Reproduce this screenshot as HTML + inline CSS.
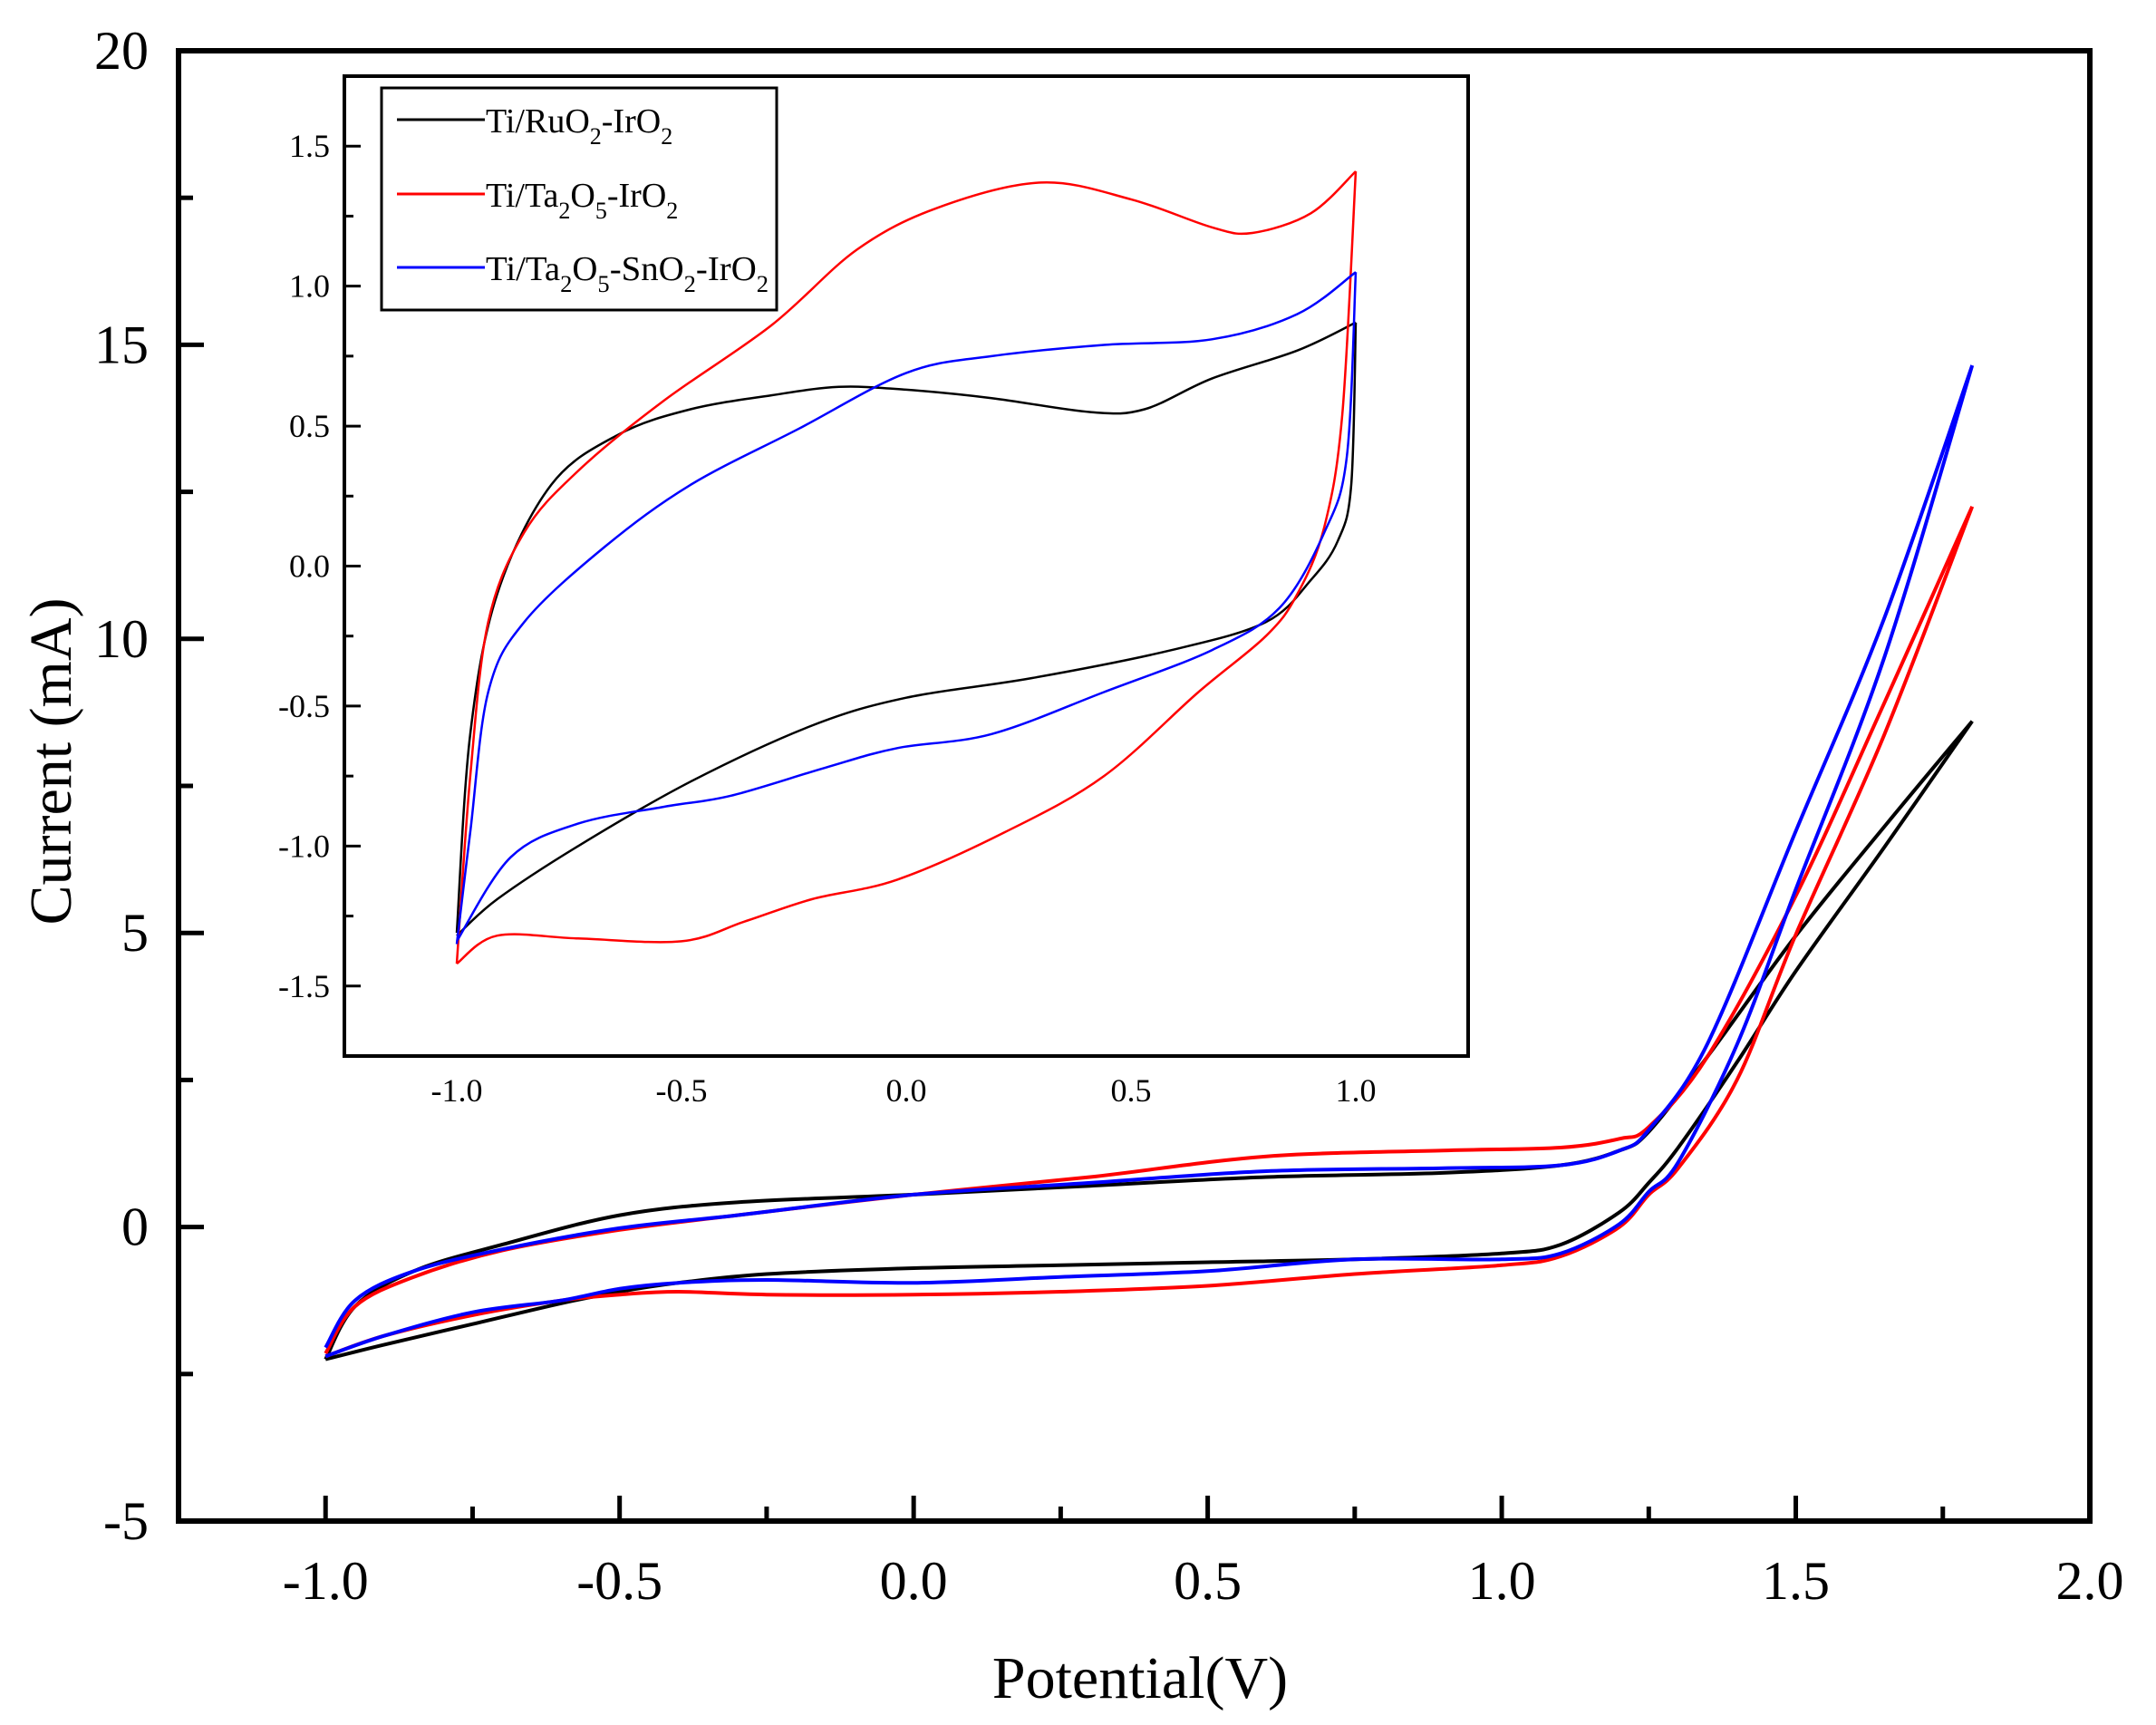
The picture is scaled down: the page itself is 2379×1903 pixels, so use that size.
<!DOCTYPE html>
<html><head><meta charset="utf-8">
<style>
html,body{margin:0;padding:0;background:#fff}
svg{display:block}
text{font-family:"Liberation Serif",serif;fill:#000}
</style></head>
<body>
<svg id="chart" width="2379" height="1903" viewBox="0 0 2379 1903" xmlns="http://www.w3.org/2000/svg">
<rect width="2379" height="1903" fill="#fff"/>
<g id="main"></g>
<g id="inset"></g>
<text x="1258" y="1873" font-size="66" text-anchor="middle">Potential(V)</text>
<text transform="translate(78,840) rotate(-90)" font-size="66" text-anchor="middle">Current (mA)</text>
<g>
<rect x="421" y="97" width="436" height="245" fill="#fff" stroke="#000" stroke-width="3"/>
<g>
<line x1="438" y1="132" x2="535" y2="132" stroke="#000" stroke-width="3"/>
<text x="536" y="146" font-size="38">Ti/RuO<tspan font-size="26" dy="13">2</tspan><tspan dy="-13">-IrO</tspan><tspan font-size="26" dy="13">2</tspan></text>
</g>
<g>
<line x1="438" y1="214" x2="535" y2="214" stroke="#f00" stroke-width="3"/>
<text x="536" y="228" font-size="38">Ti/Ta<tspan font-size="26" dy="13">2</tspan><tspan dy="-13">O</tspan><tspan font-size="26" dy="13">5</tspan><tspan dy="-13">-IrO</tspan><tspan font-size="26" dy="13">2</tspan></text>
</g>
<g>
<line x1="438" y1="295" x2="535" y2="295" stroke="#00f" stroke-width="3"/>
<text x="536" y="309" font-size="38" textLength="312" lengthAdjust="spacingAndGlyphs">Ti/Ta<tspan font-size="26" dy="13">2</tspan><tspan dy="-13">O</tspan><tspan font-size="26" dy="13">5</tspan><tspan dy="-13">-SnO</tspan><tspan font-size="26" dy="13">2</tspan><tspan dy="-13">-IrO</tspan><tspan font-size="26" dy="13">2</tspan></text>
</g>
</g>
</svg>
<script>
// ---- main plot data ----
const mainXTicks = [-1.0,-0.5,0.0,0.5,1.0,1.5,2.0];
const mainYTicks = [-5,0,5,10,15,20];
const fwdX = [-1,-0.95,-0.85,-0.7,-0.5,-0.3,0,0.3,0.6,0.9,1.1,1.2,1.25,1.35,1.5,1.65,1.8];
const blackFwd = [-2.25,-1.35,-0.75,-0.3,0.2,0.42,0.55,0.7,0.85,0.92,1.05,1.3,1.62,2.9,4.95,6.8,8.6];
const redFwd = [-2.15,-1.35,-0.85,-0.4,-0.05,0.2,0.55,0.85,1.2,1.3,1.35,1.5,1.7,2.9,5.63,8.9,12.25];
const blueFwd = [-2.05,-1.25,-0.75,-0.38,-0.02,0.2,0.55,0.75,0.95,1.0,1.05,1.3,1.65,3.12,6.73,10.34,14.65];
const revX = [1.8,1.65,1.5,1.4,1.3,1.25,1.2,1.1,1.0,0.75,0.5,0.25,0,-0.25,-0.4,-0.5,-0.6,-0.75,-0.9,-1.0];
const blackRev = [8.6,6.45,4.35,2.8,1.35,0.75,0.25,-0.3,-0.45,-0.55,-0.6,-0.65,-0.7,-0.8,-0.95,-1.1,-1.3,-1.65,-2.0,-2.25];
const redRev = [12.25,8.36,4.97,2.5,1.0,0.55,0.0,-0.5,-0.65,-0.8,-1.0,-1.1,-1.15,-1.15,-1.1,-1.15,-1.25,-1.5,-1.85,-2.2];
const blueRev = [14.65,9.67,5.74,3.1,1.1,0.6,0.05,-0.45,-0.55,-0.55,-0.75,-0.85,-0.95,-0.9,-0.95,-1.05,-1.25,-1.45,-1.85,-2.2];
// ---- inset data ----
const insetXTicks = [-1.0,-0.5,0.0,0.5,1.0];
const insetYTicks = [-1.5,-1.0,-0.5,0.0,0.5,1.0,1.5];
const iBlackUpX = [-1,-0.97,-0.91,-0.79,-0.64,-0.48,-0.3,-0.15,0,0.19,0.41,0.53,0.68,0.87,1.0];
const iBlackUpY = [-1.31,-0.6,-0.1,0.29,0.47,0.56,0.61,0.64,0.63,0.6,0.55,0.56,0.67,0.77,0.87];
const iBlackDnX = [1.0,0.99,0.96,0.9,0.8,0.59,0.28,0,-0.21,-0.48,-0.73,-0.91,-1.0];
const iBlackDnY = [0.87,0.29,0.09,-0.05,-0.2,-0.3,-0.4,-0.47,-0.57,-0.77,-1.0,-1.19,-1.32];
const iRedUpX = [-1,-0.97,-0.93,-0.85,-0.73,-0.54,-0.3,-0.11,0.07,0.3,0.5,0.68,0.77,0.9,1.0];
const iRedUpY = [-1.42,-0.75,-0.2,0.12,0.34,0.59,0.86,1.13,1.28,1.37,1.31,1.21,1.19,1.26,1.41];
const iRedDnX = [1.0,0.97,0.93,0.87,0.8,0.65,0.44,0.22,-0.02,-0.21,-0.36,-0.5,-0.73,-0.91,-1.0];
const iRedDnY = [1.41,0.54,0.14,-0.1,-0.25,-0.45,-0.75,-0.95,-1.12,-1.19,-1.27,-1.34,-1.33,-1.32,-1.42];
const iBlueUpX = [-1,-0.97,-0.93,-0.85,-0.67,-0.48,-0.24,0,0.19,0.44,0.68,0.87,1.0];
const iBlueUpY = [-1.35,-0.95,-0.45,-0.2,0.07,0.29,0.49,0.69,0.75,0.79,0.81,0.9,1.05];
const iBlueDnX = [1.0,0.98,0.93,0.83,0.68,0.44,0.19,-0.02,-0.18,-0.39,-0.54,-0.73,-0.88,-1.0];
const iBlueDnY = [1.05,0.39,0.12,-0.15,-0.3,-0.45,-0.6,-0.65,-0.72,-0.82,-0.86,-0.92,-1.04,-1.34];

const NS = "http://www.w3.org/2000/svg";
function mk(parent, tag, attrs){
  const el = document.createElementNS(NS, tag);
  for (const k in attrs) el.setAttribute(k, attrs[k]);
  parent.appendChild(el);
  return el;
}
function smoothPath(pts){
  let d = "M" + pts[0][0].toFixed(1) + "," + pts[0][1].toFixed(1);
  for (let i = 0; i < pts.length - 1; i++){
    const p0 = pts[Math.max(0,i-1)], p1 = pts[i], p2 = pts[i+1], p3 = pts[Math.min(pts.length-1,i+2)];
    const c1x = p1[0] + (p2[0]-p0[0])/6, c1y = p1[1] + (p2[1]-p0[1])/6;
    const c2x = p2[0] - (p3[0]-p1[0])/6, c2y = p2[1] - (p3[1]-p1[1])/6;
    d += " C" + c1x.toFixed(1) + "," + c1y.toFixed(1) + " " + c2x.toFixed(1) + "," + c2y.toFixed(1) + " " + p2[0].toFixed(1) + "," + p2[1].toFixed(1);
  }
  return d;
}
function loop(xa, ya, xb, yb, sx, sy){
  const a = xa.map((x,i)=>[sx(x), sy(ya[i])]);
  const b = xb.map((x,i)=>[sx(x), sy(yb[i])]);
  return smoothPath(a) + " " + smoothPath(b);
}

// ---- main plot ----
const main = document.getElementById("main");
const L=197, R=2306, T=56, B=1678;
const mx = v => L + (v + 1.25) / 3.25 * (R - L);
const my = v => B - (v + 5) / 25 * (B - T);
for (let v = -1.0; v <= 1.76; v += 0.25){
  const major = Math.abs(v*2 - Math.round(v*2)) < 1e-6;
  const t = mk(main, "line", {x1:mx(v), x2:mx(v), y1:B, y2:B-(major?28:16), stroke:"#000","stroke-width":5});
  
  
}
for (let v = -2.5; v <= 17.6; v += 2.5){
  const major = Math.abs(v/5 - Math.round(v/5)) < 1e-6;
  const t = mk(main, "line", {x1:L, x2:L+(major?28:16), y1:my(v), y2:my(v), stroke:"#000","stroke-width":5});
  
  
}
mainXTicks.forEach(v=>{
  const t = mk(main, "text", {x:mx(v), y:B+86, "font-size":60, "text-anchor":"middle"});
  t.textContent = v.toFixed(1);
  
  
});
mainYTicks.forEach(v=>{
  const t = mk(main, "text", {x:164, y:my(v)+20, "font-size":60, "text-anchor":"end"});
  t.textContent = String(v);
  
  
});
[["#000",blackFwd,blackRev,"series-ruo2-iro2"],["#f00",redFwd,redRev,"series-ta2o5-iro2"],["#00f",blueFwd,blueRev,"series-ta2o5-sno2-iro2"]].forEach(s=>{
  const p = mk(main, "path", {d: loop(fwdX, s[1], revX, s[2], mx, my), fill:"none", stroke:s[0], "stroke-width":4});
  
  
});
const frame = mk(main, "rect", {x:L, y:T, width:R-L, height:B-T, fill:"none", stroke:"#000", "stroke-width":6});



// ---- inset ----
const inset = document.getElementById("inset");
const iL=380, iR=1620, iT=84, iB=1165;
const ix = v => iL + (v + 1.25) / 2.5 * (iR - iL);
const iy = v => iB - (v + 1.75) / 3.5 * (iB - iT);
for (let v = -1.5; v <= 1.51; v += 0.25){
  const major = Math.abs(v*2 - Math.round(v*2)) < 1e-6;
  const t = mk(inset, "line", {x1:iL, x2:iL+(major?18:10), y1:iy(v), y2:iy(v), stroke:"#000","stroke-width":3});
  
  
}
insetXTicks.forEach(v=>{
  const t = mk(inset, "text", {x:ix(v), y:iB+50, "font-size":36, "text-anchor":"middle"});
  t.textContent = v.toFixed(1);
  
  
});
insetYTicks.forEach(v=>{
  const t = mk(inset, "text", {x:iL-16, y:iy(v)+12, "font-size":36, "text-anchor":"end"});
  t.textContent = v.toFixed(1);
  
  
});
[["#000",iBlackUpX,iBlackUpY,iBlackDnX,iBlackDnY,"inset-series-ruo2-iro2"],["#f00",iRedUpX,iRedUpY,iRedDnX,iRedDnY,"inset-series-ta2o5-iro2"],["#00f",iBlueUpX,iBlueUpY,iBlueDnX,iBlueDnY,"inset-series-ta2o5-sno2-iro2"]].forEach(s=>{
  const p = mk(inset, "path", {d: loop(s[1], s[2], s[3], s[4], ix, iy), fill:"none", stroke:s[0], "stroke-width":2.5});
  
  
});
const ia = mk(inset, "path", {d:`M${iL},${iT} L${iR},${iT} L${iR},${iB} L${iL},${iB} Z`, fill:"none", stroke:"#000", "stroke-width":4});


</script>
</body></html>
